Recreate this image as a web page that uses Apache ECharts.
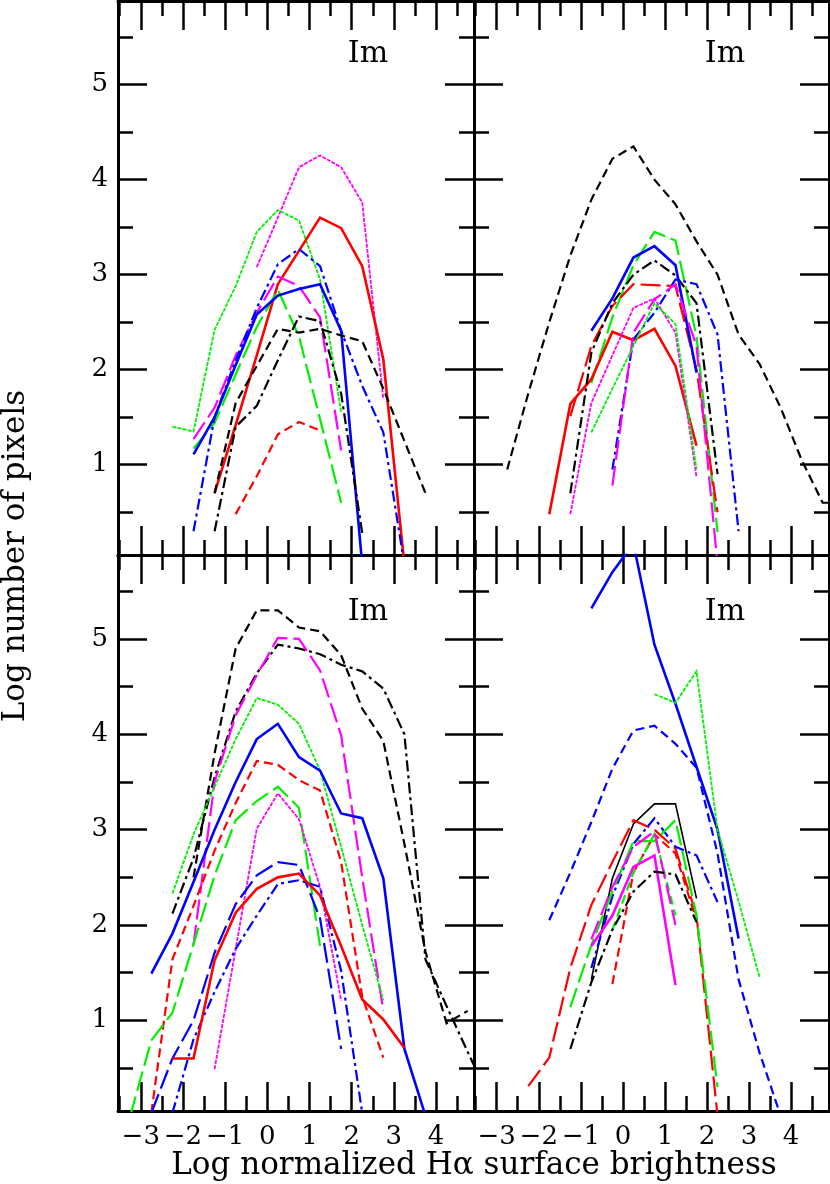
<!DOCTYPE html>
<html><head><meta charset="utf-8">
<script src="https://cdn.jsdelivr.net/npm/echarts@6/dist/echarts.min.js"></script>
<style>html,body{margin:0;padding:0;background:#fff}#c{width:830px;height:1184px}</style>
</head><body><div id="c"></div>
<script>
// ---- tick values & texts ----
const xMajorTicks = [-3,-2,-1,0,1,2,3,4];
const xMinorTicks = [-3.5,-2.5,-1.5,-0.5,0.5,1.5,2.5,3.5,4.5];
const yMajorTicks = [1,2,3,4,5];
const yMinorTicks = [0.5,1.5,2.5,3.5,4.5,5.5];
const panelLabel = 'Im';
const xTitle = 'Log normalized H\u03b1 surface brightness';
const yTitle = 'Log number of pixels';
const xRange = [-3.54, 4.9];
const yRange = [0.05, 5.88];

// ---- data: top-left panel ----
const tlMagentaDot = [[-0.25,3.08],[0.25,3.6],[0.75,4.13],[1.25,4.255],[1.75,4.13],[2.25,3.76],[2.75,1.69]];
const tlGreenDot = [[-2.25,1.40],[-1.75,1.35],[-1.25,2.42],[-0.75,2.88],[-0.25,3.45],[0.25,3.68],[0.75,3.57],[1.25,2.95],[1.75,1.55]];
const tlRedSolid = [[-1.25,0.70],[-0.75,1.42],[-0.25,2.15],[0.25,2.90],[0.75,3.25],[1.25,3.60],[1.75,3.49],[2.25,3.09],[2.75,2.11],[3.25,-0.05]];
const tlRedDash = [[-0.75,0.48],[-0.25,0.88],[0.25,1.32],[0.75,1.45],[1.25,1.36]];
const tlMagentaLong = [[-1.75,1.27],[-1.25,1.6],[-0.75,2.15],[-0.25,2.6],[0.25,2.98],[0.75,2.88],[1.25,2.55],[1.75,1.15]];
const tlGreenLong = [[-1.75,1.17],[-1.25,1.44],[-0.75,1.95],[-0.25,2.45],[0.25,2.84],[0.75,2.35],[1.25,1.48],[1.75,0.60]];
const tlBlueSolid = [[-1.75,1.11],[-1.25,1.5],[-0.75,2.05],[-0.25,2.58],[0.25,2.78],[0.75,2.85],[1.25,2.90],[1.75,2.41],[2.25,-0.05]];
const tlBlueDashDot = [[-1.75,0.30],[-1.25,1.5],[-0.75,2.1],[-0.25,2.65],[0.25,3.11],[0.75,3.27],[1.25,3.09],[1.75,2.41],[2.25,1.83],[2.75,1.34],[3.25,-0.05]];
const tlBlackDash = [[-1.25,0.70],[-0.75,1.65],[-0.25,2.04],[0.25,2.43],[0.75,2.39],[1.25,2.43],[1.75,2.36],[2.25,2.30],[2.75,1.80],[3.25,1.25],[3.75,0.70]];
const tlBlackDashDot = [[-1.25,0.30],[-0.75,1.40],[-0.25,1.62],[0.25,2.1],[0.75,2.56],[1.25,2.51],[1.75,1.75],[2.25,0.28]];

// ---- data: top-right panel ----
const trBlackDash = [[-2.75,0.95],[-2.25,1.75],[-1.75,2.5],[-1.25,3.2],[-0.75,3.79],[-0.25,4.22],[0.25,4.35],[0.75,4.0],[1.25,3.74],[1.75,3.35],[2.25,3.0],[2.75,2.37],[3.25,2.06],[3.75,1.6],[4.25,1.05],[4.75,0.6],[5.25,0.6]];
const trGreenDash = [[-0.75,1.86],[-0.25,2.55],[0.25,3.1],[0.75,3.45],[1.25,3.36],[1.75,2.35],[2.25,0.29]];
const trRedSolid = [[-1.75,0.48],[-1.25,1.64],[-0.75,1.90],[-0.25,2.40],[0.25,2.31],[0.75,2.43],[1.25,2.04],[1.75,1.2]];
const trRedDash = [[-1.25,1.51],[-0.75,2.25],[-0.25,2.67],[0.25,2.9],[0.75,2.89],[1.25,2.88],[1.75,2.0],[2.25,0.5]];
const trBlackDashDot = [[-1.25,0.70],[-0.75,2.18],[-0.25,2.7],[0.25,3.0],[0.75,3.15],[1.25,2.99],[1.75,2.7],[2.25,0.9]];
const trBlueSolid = [[-0.75,2.41],[-0.25,2.75],[0.25,3.18],[0.75,3.3],[1.25,3.1],[1.75,1.97]];
const trBlueDashDot = [[-0.25,0.95],[0.25,2.32],[0.75,2.6],[1.25,2.95],[1.75,2.9],[2.25,2.37],[2.75,0.3]];
const trMagentaLong = [[-0.25,0.78],[0.25,2.39],[0.75,2.74],[1.25,2.9],[1.75,2.25],[2.25,-0.05]];
const trMagentaDot = [[-1.25,0.48],[-0.75,1.65],[-0.25,2.15],[0.25,2.65],[0.75,2.75],[1.25,2.39],[1.75,0.87]];
const trGreenDot = [[-0.75,1.34],[-0.25,1.8],[0.25,2.25],[0.75,2.7],[1.25,2.48],[1.75,0.95]];

// ---- data: bottom-left panel ----
const blBlackDash = [[-1.75,2.5],[-1.25,3.8],[-0.75,4.9],[-0.25,5.30],[0.25,5.30],[0.75,5.12],[1.25,5.08],[1.75,4.83],[2.25,4.27],[2.75,3.93],[3.25,2.85],[3.75,1.72],[4.25,0.97],[4.75,1.1]];
const blBlackDashDot = [[-2.25,2.12],[-1.75,2.7],[-1.25,3.55],[-0.75,4.24],[-0.25,4.64],[0.25,4.94],[0.75,4.90],[1.25,4.84],[1.75,4.73],[2.25,4.66],[2.75,4.48],[3.25,4.0],[3.75,1.64],[4.25,1.15],[4.75,0.67],[5.25,0.2]];
const blMagentaLong = [[-1.75,1.79],[-1.25,3.5],[-0.75,4.2],[-0.25,4.62],[0.25,5.01],[0.75,5.0],[1.25,4.67],[1.75,3.99],[2.25,2.5],[2.75,1.1]];
const blGreenDot = [[-2.25,2.33],[-1.75,2.95],[-1.25,3.45],[-0.75,3.95],[-0.25,4.38],[0.25,4.31],[0.75,4.11],[1.25,3.62],[1.75,2.82],[2.25,2.0],[2.75,1.21]];
const blBlueSolid = [[-2.75,1.49],[-2.25,1.91],[-1.75,2.45],[-1.25,3.0],[-0.75,3.5],[-0.25,3.95],[0.25,4.11],[0.75,3.76],[1.25,3.62],[1.75,3.17],[2.25,3.12],[2.75,2.49],[3.25,0.70],[3.75,0.0]];
const blRedDash = [[-2.75,0.03],[-2.25,1.64],[-1.75,2.2],[-1.25,2.78],[-0.75,3.28],[-0.25,3.72],[0.25,3.68],[0.75,3.52],[1.25,3.41],[1.75,2.66],[2.25,1.25],[2.75,0.61]];
const blGreenLong = [[-3.25,0.0],[-2.75,0.79],[-2.25,1.08],[-1.75,1.8],[-1.25,2.52],[-0.75,3.1],[-0.25,3.3],[0.25,3.45],[0.75,3.23],[1.25,1.78]];
const blMagentaDot = [[-1.25,0.49],[-0.75,1.75],[-0.25,3.01],[0.25,3.38],[0.75,3.11],[1.25,2.4],[1.75,1.21]];
const blBlueLong = [[-2.75,0.03],[-2.25,0.6],[-1.75,1.0],[-1.25,1.71],[-0.75,2.22],[-0.25,2.52],[0.25,2.66],[0.75,2.63],[1.25,2.07],[1.75,0.70]];
const blBlueDashDot = [[-2.25,0.03],[-1.75,0.8],[-1.25,1.3],[-0.75,1.75],[-0.25,2.1],[0.25,2.43],[0.75,2.47],[1.25,2.4],[1.75,1.52],[2.25,0.03]];
const blRedSolid = [[-2.25,0.60],[-1.75,0.60],[-1.25,1.63],[-0.75,2.13],[-0.25,2.38],[0.25,2.50],[0.75,2.54],[1.25,2.31],[1.75,1.78],[2.25,1.22],[2.75,1.01],[3.25,0.71]];

// ---- data: bottom-right panel ----
const brBlueSolid = [[-0.75,5.32],[-0.25,5.7],[0.25,6.0],[0.75,4.94],[1.25,4.32],[1.75,3.66],[2.25,3.0],[2.75,1.86]];
const brGreenDot = [[0.75,4.42],[1.25,4.33],[1.75,4.66],[2.25,3.0],[2.75,2.25],[3.25,1.45]];
const brBlueDash = [[-1.75,2.05],[-1.25,2.55],[-0.75,3.08],[-0.25,3.64],[0.25,4.04],[0.75,4.09],[1.25,3.9],[1.75,3.65],[2.25,2.75],[2.75,1.43],[3.25,0.66],[3.75,0.0]];
const brBlackSolid = [[-0.75,1.43],[-0.25,2.49],[0.25,3.06],[0.75,3.27],[1.25,3.27],[1.75,2.28]];
const brRedLong = [[-2.25,0.31],[-1.75,0.61],[-1.25,1.55],[-0.75,2.21],[-0.25,2.66],[0.25,3.10],[0.75,3.0],[1.25,2.8],[1.75,2.1],[2.25,0.0]];
const brRedDash = [[-0.25,1.38],[0.25,2.55],[0.75,2.95],[1.25,2.75],[1.75,2.05]];
const brBlueDashDot = [[-0.75,1.55],[-0.25,2.3],[0.25,2.85],[0.75,3.12],[1.25,2.82],[1.75,2.73],[2.25,2.24]];
const brGreenLong = [[-1.25,1.14],[-0.75,1.79],[-0.25,2.35],[0.25,2.88],[0.75,2.88],[1.25,3.10],[1.75,2.1],[2.25,0.3]];
const brGreenDash = [[-0.25,1.95],[0.25,2.55],[0.75,2.95],[1.25,2.1]];
const brMagentaSolid = [[-0.75,1.78],[-0.25,2.1],[0.25,2.61],[0.75,2.73],[1.25,1.37]];
const brMagentaLong = [[-0.75,1.85],[-0.25,2.4],[0.25,2.82],[0.75,2.98],[1.25,2.0]];
const brBlackDashDot = [[-1.25,0.70],[-0.75,1.4],[-0.25,1.95],[0.25,2.35],[0.75,2.56],[1.25,2.53],[1.75,2.03]];

// ---- styling (kept apart from data) ----
const COL = {r:'#ff0000', g:'#00f000', b:'#0000ff', m:'#ff00ff', k:'#000000'};
const DASH = {
  solid: {type:'solid', width:2.6},
  thin: {type:'solid', width:1.6},
  dot: {type:[4,1.2], width:1.8},
  dash: {type:[9,5], width:2.2},
  long: {type:[20,6], width:2.2},
  dashdot: {type:[11,4,3,4], width:2.2}
};
const lines = [
  [0,tlMagentaDot,'m','dot'],[0,tlGreenDot,'g','dot'],[0,tlRedSolid,'r','solid'],[0,tlRedDash,'r','dash'],
  [0,tlMagentaLong,'m','long'],[0,tlGreenLong,'g','long'],[0,tlBlueSolid,'b','solid'],[0,tlBlueDashDot,'b','dashdot'],
  [0,tlBlackDash,'k','dash'],[0,tlBlackDashDot,'k','dashdot'],
  [1,trBlackDash,'k','dash'],[1,trGreenDash,'g','long'],[1,trRedSolid,'r','solid'],[1,trRedDash,'r','long'],
  [1,trBlackDashDot,'k','dashdot'],[1,trBlueSolid,'b','solid'],[1,trBlueDashDot,'b','dashdot'],[1,trMagentaLong,'m','long'],
  [1,trMagentaDot,'m','dot'],[1,trGreenDot,'g','dot'],
  [2,blBlackDash,'k','dash'],[2,blBlackDashDot,'k','dashdot'],[2,blMagentaLong,'m','long'],[2,blGreenDot,'g','dot'],
  [2,blBlueSolid,'b','solid'],[2,blRedDash,'r','dash'],[2,blGreenLong,'g','long'],[2,blMagentaDot,'m','dot'],
  [2,blBlueLong,'b','long'],[2,blBlueDashDot,'b','dashdot'],[2,blRedSolid,'r','solid'],
  [3,brBlueSolid,'b','solid'],[3,brGreenDot,'g','dot'],[3,brBlueDash,'b','dash'],[3,brBlackSolid,'k','thin'],
  [3,brRedLong,'r','long'],[3,brRedDash,'r','dash'],[3,brBlueDashDot,'b','dashdot'],[3,brGreenLong,'g','long'],
  [3,brGreenDash,'g','dash'],[3,brMagentaSolid,'m','solid'],[3,brMagentaLong,'m','long'],[3,brBlackDashDot,'k','dashdot']
];

const FONT = 'DejaVu Serif';
const grids = [
  {left:118, top:1, width:356, height:554},
  {left:474, top:1, width:355, height:554},
  {left:118, top:555, width:356, height:556},
  {left:474, top:555, width:355, height:556}
];
const AXC = '#000';
const xAxes = [], yAxes = [], mainX = [], mainY = [];
grids.forEach((g, gi) => {
  const isBottom = gi >= 2, isLeft = gi % 2 === 0;
  ['bottom','top'].forEach(pos => {
    [[xMajorTicks,29],[xMinorTicks,15]].forEach(([vals,len], k) => {
      if (pos === 'bottom' && k === 0) mainX[gi] = xAxes.length;
      const showLab = pos === 'bottom' && k === 0 && isBottom;
      xAxes.push({
        gridIndex: gi, type:'value', position: pos, min: xRange[0], max: xRange[1],
        axisLine: {show: k === 0, onZero:false, lineStyle:{color:AXC, width:3}},
        axisTick: {show:true, inside:true, length:len, customValues: vals, lineStyle:{color:AXC, width:2.5}},
        axisLabel: {show: showLab, customValues: vals, margin: 13, color:'#000', fontFamily: FONT, fontSize: 26,
          formatter: v => String(v).replace('-', '\u2212')},
        splitLine: {show:false}
      });
    });
  });
  ['left','right'].forEach(pos => {
    [[yMajorTicks,29],[yMinorTicks,15]].forEach(([vals,len], k) => {
      if (pos === 'left' && k === 0) mainY[gi] = yAxes.length;
      const showLab = pos === 'left' && k === 0 && isLeft;
      yAxes.push({
        gridIndex: gi, type:'value', position: pos, min: yRange[0], max: yRange[1],
        axisLine: {show: k === 0, onZero:false, lineStyle:{color:AXC, width:3}},
        axisTick: {show:true, inside:true, length:len, customValues: vals, lineStyle:{color:AXC, width:2.5}},
        axisLabel: {show: showLab, customValues: vals, margin: 10, color:'#000', fontFamily: FONT, fontSize: 26},
        splitLine: {show:false}
      });
    });
  });
});

const series = lines.map(([gi, data, c, d]) => ({
  type:'line', xAxisIndex: mainX[gi], yAxisIndex: mainY[gi], data: data,
  showSymbol:false, symbol:'none', clip:true, silent:true, animation:false,
  lineStyle: {color: COL[c], width: DASH[d].width, type: DASH[d].type, cap:'butt', join:'miter'}
}));

const labelPos = [[368,54],[725,54],[368,612],[725,612]];
const graphic = labelPos.map(([x,y]) => ({
  type:'text', x, y, style:{text: panelLabel, font: '30px "' + FONT + '"', fill:'#000', align:'center', verticalAlign:'middle'}
}));
graphic.push({type:'text', x:474, y:1166, style:{text:xTitle, font:'31px "' + FONT + '"', fill:'#000', align:'center', verticalAlign:'middle'}});
graphic.push({type:'text', x:16, y:556, rotation: Math.PI/2, style:{text:yTitle, font:'31px "' + FONT + '"', fill:'#000', align:'center', verticalAlign:'middle'}});

const chart = echarts.init(document.getElementById('c'), null, {renderer:'canvas'});
chart.setOption({
  animation:false,
  backgroundColor:'#fff',
  grid: grids.map(g => Object.assign({containLabel:false}, g)),
  xAxis: xAxes, yAxis: yAxes, series, graphic
});
</script></body></html>
